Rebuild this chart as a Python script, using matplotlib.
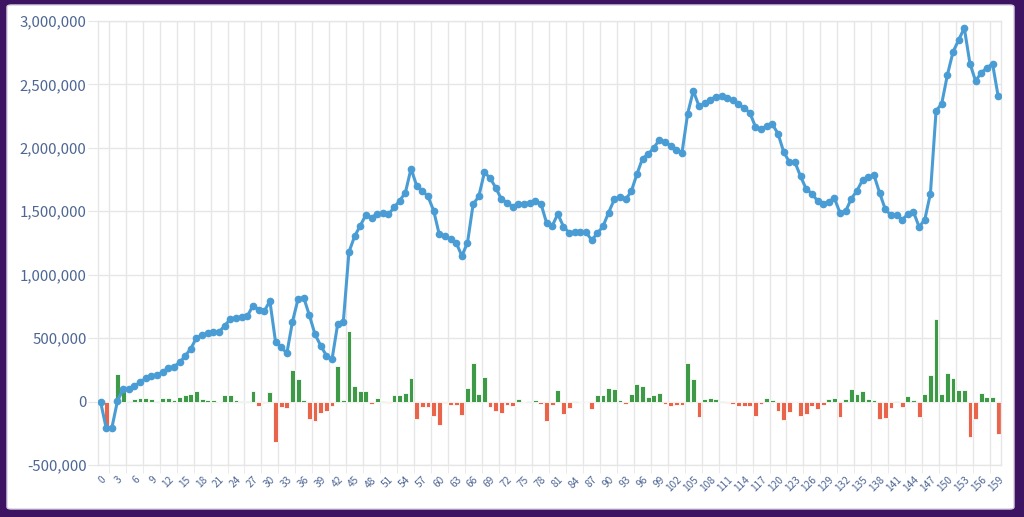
import numpy as np
import matplotlib.pyplot as plt
from matplotlib.patches import FancyBboxPatch
from matplotlib.ticker import FuncFormatter

# cumulative total (line) and change per step (bars), in thousands
totals = [0, -209, -209, 5, 98, 103, 122, 153, 183, 201,
          208, 233, 265, 275, 308, 360, 418, 503, 522, 537,
          550, 550, 598, 651, 661, 667, 672, 757, 725, 713,
          792, 471, 431, 380, 630, 810, 819, 679, 529, 441,
          363, 332, 609, 625, 1178, 1302, 1387, 1471, 1450, 1479,
          1487, 1476, 1530, 1584, 1648, 1836, 1701, 1662, 1617, 1506,
          1318, 1307, 1278, 1252, 1148, 1252, 1556, 1617, 1807, 1762,
          1686, 1596, 1569, 1537, 1561, 1561, 1566, 1582, 1561, 1410,
          1384, 1479, 1379, 1331, 1334, 1334, 1334, 1273, 1326, 1381,
          1490, 1593, 1609, 1593, 1656, 1791, 1916, 1950, 2000, 2064,
          2048, 2016, 1987, 1963, 2270, 2450, 2330, 2350, 2381, 2403,
          2405, 2392, 2376, 2344, 2313, 2278, 2167, 2146, 2175, 2186,
          2112, 1969, 1889, 1887, 1775, 1675, 1640, 1582, 1556, 1577,
          1603, 1484, 1503, 1600, 1663, 1748, 1771, 1785, 1645, 1516,
          1469, 1474, 1432, 1479, 1495, 1376, 1434, 1640, 2292, 2348,
          2574, 2756, 2850, 2945, 2664, 2527, 2593, 2630, 2664, 2406]

changes = [0, -209, 0, 214, 93, 5, 19, 31, 30, 18,
           7, 25, 32, 10, 33, 52, 58, 85, 19, 15,
           13, 0, 48, 53, 10, 6, 5, 85, -32, -12,
           79, -321, -40, -51, 250, 180, 9, -140, -150, -88,
           -78, -31, 277, 16, 553, 124, 85, 84, -21, 29,
           8, -11, 54, 54, 64, 188, -135, -39, -45, -111,
           -188, -11, -29, -26, -104, 104, 304, 61, 190, -45,
           -76, -90, -27, -32, 24, 0, 5, 16, -21, -151,
           -26, 95, -100, -48, 3, 0, 0, -61, 53, 55,
           109, 103, 16, -16, 63, 135, 125, 34, 50, 64,
           -16, -32, -29, -24, 307, 180, -120, 20, 31, 22,
           2, -13, -16, -32, -31, -35, -111, -21, 29, 11,
           -74, -143, -80, -2, -112, -100, -35, -58, -26, 21,
           26, -119, 19, 97, 63, 85, 23, 14, -140, -129,
           -47, 5, -42, 47, 16, -119, 58, 206, 652, 56,
           226, 182, 94, 95, -281, -137, 66, 37, 34, -258]

steps = np.arange(len(totals))
totals = np.array(totals) * 1000
changes = np.array(changes) * 1000

plt.rcParams['font.family'] = ['Noto Sans CJK JP', 'DejaVu Sans']

label_col = "#4d6694"
grid_col = "#e6e6e6"
line_col = "#4a9dd4"
up_col = "#3f9a48"
down_col = "#e8644b"

fig = plt.figure(figsize=(10.24, 5.17), dpi=100)
fig.patch.set_facecolor("#3d1462")

# white card behind the chart
card = FancyBboxPatch((7 / 1024, 8 / 517), 1007 / 1024, 504 / 517,
                      boxstyle="round,pad=0,rounding_size=0.004",
                      transform=fig.transFigure, facecolor="white",
                      edgecolor="#d8d2e2", linewidth=1, zorder=-10)
fig.patches.append(card)

ax = fig.add_axes([97.7 / 1024, 52 / 517, 903.3 / 1024, 444 / 517])
ax.set_facecolor("none")
ax.set_zorder(1)

bar_cols = [up_col if c >= 0 else down_col for c in changes]
ax.bar(steps, changes, width=0.85, color=bar_cols, edgecolor="white",
       linewidth=0.6, zorder=2)
ax.plot(steps, totals, color=line_col, linewidth=2.2, marker="o",
        markersize=4.5, zorder=3)

ax.set_xlim(-0.5, 159.5)
ax.set_ylim(-500000, 3000000)

ax.set_yticks(np.arange(-500000, 3000001, 500000))
ax.yaxis.set_major_formatter(FuncFormatter(lambda v, p: f"{int(v):,}"))
ax.tick_params(axis="y", length=7, color=grid_col, pad=1,
               labelsize=10.8, labelcolor=label_col)
ax.grid(axis="y", color=grid_col, linewidth=1, zorder=0)

ax.set_xticks(steps[::3])
ax.set_xticklabels([str(s) for s in steps[::3]], rotation=45,
                   ha="right", va="top", rotation_mode="anchor")
ax.set_xticks(np.arange(1.5, 159, 3), minor=True)
ax.tick_params(axis="x", which="major", length=0, pad=7,
               labelsize=7.3, labelcolor=label_col)
ax.tick_params(axis="x", which="minor", length=6, color=grid_col)
ax.grid(axis="x", which="minor", color=grid_col, linewidth=1, zorder=0)

for side in ["left", "right", "top", "bottom"]:
    ax.spines[side].set_color(grid_col)
    ax.spines[side].set_linewidth(1)

fig.savefig("out.png", dpi=100, facecolor=fig.get_facecolor())
